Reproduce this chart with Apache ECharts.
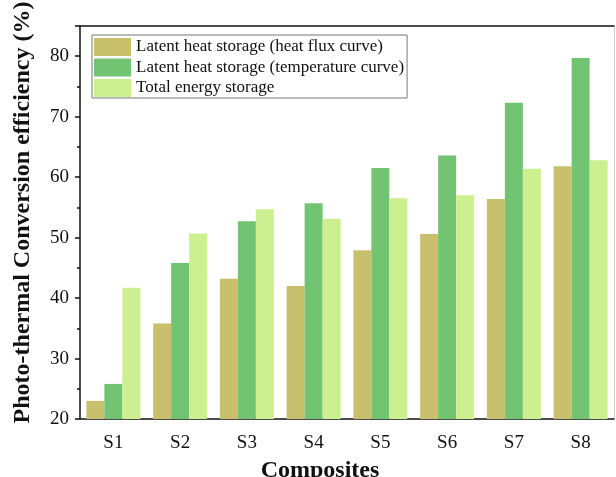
<!DOCTYPE html>
<html>
<head>
<meta charset="utf-8">
<script src="https://cdn.jsdelivr.net/npm/echarts@6/dist/echarts.min.js"></script>
<style>
  html, body { margin: 0; padding: 0; background: #fff; }
  #chart { width: 616px; height: 477px; }
</style>
</head>
<body>
<div id="chart"></div>
<script>
// Composite samples on the x axis
const categories = ['S1', 'S2', 'S3', 'S4', 'S5', 'S6', 'S7', 'S8'];

// Photo-thermal conversion efficiency (%) for each method
const heatFluxLatent = [23.0, 35.8, 43.2, 42.0, 47.9, 50.6, 56.4, 61.8];
const temperatureLatent = [25.8, 45.8, 52.7, 55.7, 61.5, 63.6, 72.3, 79.7];
const totalEnergy = [41.7, 50.7, 54.7, 53.1, 56.5, 57.0, 61.4, 62.8];

const seriesNames = [
  'Latent heat storage (heat flux curve)',
  'Latent heat storage (temperature curve)',
  'Total energy storage'
];
const seriesColors = ['#C8C06C', '#72C472', '#CCF090'];

const FONT = '"Liberation Serif", "Times New Roman", serif';

const chart = echarts.init(document.getElementById('chart'));

const makeBar = (name, data, color) => ({
  name,
  type: 'bar',
  data,
  barWidth: 18,
  barGap: '0%',
  itemStyle: { color },
  emphasis: { disabled: true }
});

chart.setOption({
  animation: false,
  backgroundColor: '#fff',
  grid: { left: 80, right: 2, top: 26, bottom: 58, containLabel: false, outerBoundsMode: 'none' },
  legend: {
    orient: 'vertical',
    left: 92,
    top: 35,
    itemWidth: 37,
    itemHeight: 18,
    itemGap: 2.5,
    padding: [3, 3, 1, 2],
    borderColor: '#777',
    borderWidth: 1,
    borderRadius: 0,
    icon: 'rect',
    textStyle: { fontFamily: FONT, fontSize: 17, color: '#111' },
    data: seriesNames
  },
  xAxis: [
    {
      type: 'category',
      data: categories,
      position: 'bottom',
      boundaryGap: true,
      axisLine: { lineStyle: { color: '#111', width: 1.5 } },
      axisTick: { alignWithLabel: true, length: 5, lineStyle: { color: '#111', width: 1.5 } },
      axisLabel: { fontFamily: FONT, fontSize: 19, color: '#111', margin: 15 },
      name: 'Composites',
      nameLocation: 'middle',
      nameGap: 40,
      nameTextStyle: { fontFamily: FONT, fontSize: 24, fontWeight: 'bold', color: '#111', padding: [0, 54, 0, 0] },
      splitLine: { show: false }
    },
    {
      type: 'category',
      data: categories,
      position: 'top',
      axisLine: { lineStyle: { color: '#111', width: 1.5 } },
      axisTick: { show: false },
      axisLabel: { show: false },
      splitLine: { show: false }
    }
  ],
  yAxis: [
    {
      type: 'value',
      min: 20,
      max: 85,
      interval: 10,
      position: 'left',
      axisLine: { show: true, lineStyle: { color: '#111', width: 1.5 } },
      axisTick: { show: true, length: 5, inside: false, lineStyle: { color: '#111', width: 1.5 } },
      minorTick: { show: true, splitNumber: 2, length: 3, lineStyle: { color: '#111', width: 1.5 } },
      axisLabel: { fontFamily: FONT, fontSize: 19, color: '#111', margin: 11,
        formatter: v => (v % 10 === 0 ? String(v) : '') },
      splitLine: { show: false },
      name: 'Photo-thermal Conversion efficiency (%)',
      nameLocation: 'middle',
      nameGap: 45,
      nameRotate: 90,
      nameTextStyle: { fontFamily: FONT, fontSize: 24, fontWeight: 'bold', color: '#111', padding: [0, 0, 0, 20] }
    },
    {
      type: 'value',
      min: 20,
      max: 85,
      position: 'right',
      axisLine: { show: true, lineStyle: { color: '#ccc', width: 1 } },
      axisTick: { show: false },
      axisLabel: { show: false },
      splitLine: { show: false }
    }
  ],
  series: [
    makeBar(seriesNames[0], heatFluxLatent, seriesColors[0]),
    makeBar(seriesNames[1], temperatureLatent, seriesColors[1]),
    makeBar(seriesNames[2], totalEnergy, seriesColors[2])
  ]
});
</script>
</body>
</html>
